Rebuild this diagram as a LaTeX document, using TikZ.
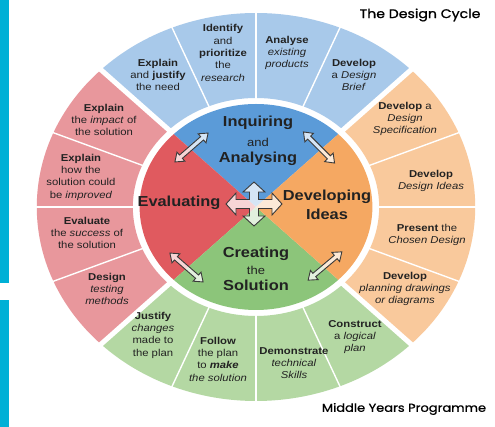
\documentclass[tikz,border=0pt]{standalone}
\usepackage{fontspec}
\setmainfont{Liberation Sans}
\newfontfamily\titlefont[FakeBold=0.9]{Poppins}
\definecolor{barcyan}{HTML}{00B0D6}
\definecolor{ringblue}{HTML}{A8C9EA}
\definecolor{inblue}{HTML}{5B9BD8}
\definecolor{ringorange}{HTML}{F9C99C}
\definecolor{inorange}{HTML}{F5A862}
\definecolor{ringgreen}{HTML}{B4D8A3}
\definecolor{ingreen}{HTML}{8CC57A}
\definecolor{ringred}{HTML}{E8979C}
\definecolor{inred}{HTML}{E05A5F}
\definecolor{txt}{HTML}{222222}
\definecolor{arrline}{HTML}{3A3A3A}
\tikzset{
  rt/.style={align=center, font=\fontsize{10}{12.3}\selectfont, text=txt, xscale=1.13, inner sep=0pt},
  bigl/.style={font=\bfseries\fontsize{14.5}{16}\selectfont, text=txt, xscale=1.13, inner sep=0pt},
  smalll/.style={font=\fontsize{11.5}{13}\selectfont, text=txt, xscale=1.13, inner sep=0pt},
  ttl/.style={font=\titlefont\fontsize{12.5}{14}\selectfont, text=black, xscale=1.13, inner sep=0pt},
  arrst/.style={fill=white, fill opacity=0.75, draw=arrline, line width=0.9pt, line join=miter},
  pics/dblarrow/.style={code={
    \draw[arrst] (-22,0) -- (-14,6) -- (-14,2.2) -- (14,2.2) -- (14,6) -- (22,0)
      -- (14,-6) -- (14,-2.2) -- (-14,-2.2) -- (-14,-6) -- cycle;}},
  pics/crossarrow/.style={code={
    \draw[arrst] (4.5,4.5) -- (4.5,12) -- (11,12) -- (0,22) -- (-11,12) -- (-4.5,12)
      -- (-4.5,4.5) -- (-18,4.5) -- (-18,11) -- (-28,0) -- (-18,-11) -- (-18,-4.5)
      -- (-4.5,-4.5) -- (-4.5,-12) -- (-11,-12) -- (0,-22) -- (11,-12) -- (4.5,-12)
      -- (4.5,-4.5) -- (18,-4.5) -- (18,-11) -- (28,0) -- (18,11) -- (18,4.5) -- cycle;}}
}
\begin{document}
\begin{tikzpicture}[x=1pt,y=1pt]
\useasboundingbox (0,0) rectangle (495,427);
\fill[white] (0,0) rectangle (495,427);
\fill[barcyan] (0,144) rectangle (9,427);
\fill[barcyan] (0,0) rectangle (9,127);

\begin{scope}[shift={(256,220)}, xscale=1.13]
  % ring groups
  \fill[ringblue] (45:109) arc[start angle=45,end angle=135,radius=109] -- (135:194) arc[start angle=135,end angle=45,radius=194] -- cycle;
  \fill[ringred] (135:109) arc[start angle=135,end angle=225,radius=109] -- (225:194) arc[start angle=225,end angle=135,radius=194] -- cycle;
  \fill[ringgreen] (225:109) arc[start angle=225,end angle=315,radius=109] -- (315:194) arc[start angle=315,end angle=225,radius=194] -- cycle;
  \fill[ringorange] (-45:109) arc[start angle=-45,end angle=45,radius=109] -- (45:194) arc[start angle=45,end angle=-45,radius=194] -- cycle;
  % thin separators
  \foreach \a in {67.5,90,112.5,157.5,180,202.5,247.5,270,292.5,337.5,0,22.5}
    \draw[white, line width=1.4pt] (\a:105) -- (\a:198);
  % group gaps
  \foreach \a in {45,135,225,315}
    \draw[white, line width=5pt] (\a:100) -- (\a:200);
  % inner disc
  \fill[inblue] (0,0) -- (45:103) arc[start angle=45,end angle=135,radius=103] -- cycle;
  \fill[inred] (0,0) -- (135:103) arc[start angle=135,end angle=225,radius=103] -- cycle;
  \fill[ingreen] (0,0) -- (225:103) arc[start angle=225,end angle=315,radius=103] -- cycle;
  \fill[inorange] (0,0) -- (-45:103) arc[start angle=-45,end angle=45,radius=103] -- cycle;
\end{scope}

% ring texts: blue
\node[rt] (b1) at (158,352) {\textbf{Explain}\\and \textbf{justify}\\the need};
\node[rt] (b2) at (223,374) {\textbf{Identify}\\and\\\textbf{prioritize}\\the\\\textit{research}};
\node[rt] (b3) at (287,374) {\textbf{Analyse}\\\textit{existing}\\\textit{products}};
\node[rt] (b4) at (354,352) {\textbf{Develop}\\a \textit{Design}\\\textit{Brief}};
% orange
\node[rt] (o1) at (405,308) {\textbf{Develop} a\\\textit{Design}\\\textit{Specification}};
\node[rt] (o2) at (431,246) {\textbf{Develop}\\\textit{Design Ideas}};
\node[rt] (o3) at (427,192) {\textbf{Present} the\\\textit{Chosen Design}};
\node[rt] (o4) at (405,138) {\textbf{Develop}\\\textit{planning drawings}\\\textit{or diagrams}};
% green
\node[rt] (g1) at (355,90) {\textbf{Construct}\\a \textit{logical}\\\textit{plan}};
\node[rt] (g2) at (294,64) {\textbf{Demonstrate}\\\textit{technical}\\\textit{Skills}};
\node[rt] (g3) at (218,68) {\textbf{Follow}\\the plan\\to \textbf{\textit{make}}\\\textit{the solution}};
\node[rt] (g4) at (153,92) {\textbf{Justify}\\\textit{changes}\\made to\\the plan};
% red
\node[rt] (r1) at (107,138) {\textbf{Design}\\\textit{testing}\\\textit{methods}};
\node[rt] (r2) at (87,194) {\textbf{Evaluate}\\the \textit{success} of\\the solution};
\node[rt] (r3) at (81,250) {\textbf{Explain}\\how the\\solution could\\be \textit{improved}};
\node[rt] (r4) at (104,307) {\textbf{Explain}\\the \textit{impact} of\\the solution};

% inner labels
\node[bigl] (ia1) at (258,304) {Inquiring};
\node[smalll] (ia2) at (258,285) {and};
\node[bigl] (ia3) at (258,268) {Analysing};
\node[bigl] (ev) at (179,224) {Evaluating};
\node[bigl] (di1) at (327,230) {Developing};
\node[bigl] (di2) at (327,213) {Ideas};
\node[bigl] (cs1) at (256,173) {Creating};
\node[smalll] (cs2) at (256,157) {the};
\node[bigl] (cs3) at (256,142) {Solution};

% arrows
\pic[rotate=41] at (191.5,279.5) {dblarrow};
\pic[rotate=-45] at (319,279.5) {dblarrow};
\pic[rotate=-41] at (186.5,159.5) {dblarrow};
\pic[rotate=40] at (325,161) {dblarrow};
\pic at (254,223) {crossarrow};

% titles
\node[ttl] (title) at (420,412) {The Design Cycle};
\node[ttl, font=\titlefont\fontsize{11.5}{13}\selectfont] (myp) at (404,18) {Middle Years Programme};
\end{tikzpicture}
\end{document}
